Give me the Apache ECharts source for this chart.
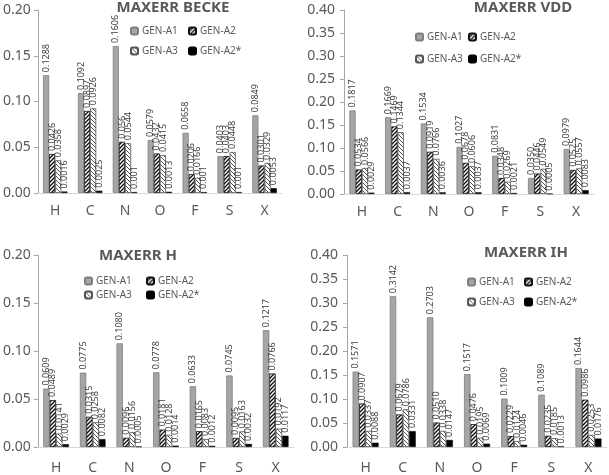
<!DOCTYPE html>
<html><head><meta charset="utf-8">
<script src="https://cdn.jsdelivr.net/npm/echarts@6/dist/echarts.min.js"></script>
<style>html,body{margin:0;padding:0;background:#fff}#c{width:609px;height:475px}</style>
</head><body><div id="c"></div>
<script>
const categories = ['H','C','N','O','F','S','X'];
const seriesNames = ['GEN-A1','GEN-A2','GEN-A3','GEN-A2*'];
const panelTitles = ['MAXERR BECKE','MAXERR VDD','MAXERR H','MAXERR IH'];
const yMax = [0.20, 0.40, 0.20, 0.40];
const yInterval = [0.05, 0.05, 0.05, 0.05];

const becke_A1  = [0.1288,0.1092,0.1606,0.0579,0.0658,0.0403,0.0849];
const becke_A2  = [0.0426,0.0897,0.056,0.0432,0.0206,0.0403,0.0301];
const becke_A3  = [0.0358,0.0926,0.0544,0.0415,0.0166,0.0448,0.0329];
const becke_A2s = [0.0016,0.0025,0.001,0.0013,0.001,0.001,0.0053];

const vdd_A1  = [0.1817,0.1669,0.1534,0.1027,0.0831,0.0350,0.0979];
const vdd_A2  = [0.0534,0.1469,0.0919,0.0678,0.0348,0.0446,0.0525];
const vdd_A3  = [0.0566,0.1344,0.0766,0.0606,0.0269,0.0549,0.0557];
const vdd_A2s = [0.0029,0.0037,0.0036,0.0037,0.0021,0.0005,0.0083];

const h_A1  = [0.0609,0.0775,0.1080,0.0778,0.0633,0.0745,0.1217];
const h_A2  = [0.0489,0.0315,0.0096,0.0181,0.0165,0.0095,0.0766];
const h_A3  = [0.0141,0.0258,0.0156,0.0128,0.0083,0.0163,0.0192];
const h_A2s = [0.0029,0.0082,0.0005,0.0014,0.0012,0.0032,0.0117];

const ih_A1  = [0.1571,0.3142,0.2703,0.1517,0.1009,0.1089,0.1644];
const ih_A2  = [0.0907,0.0679,0.0510,0.0476,0.0229,0.0235,0.0986];
const ih_A3  = [0.0337,0.0786,0.0338,0.0195,0.0124,0.0185,0.0253];
const ih_A2s = [0.0088,0.0331,0.0147,0.0069,0.0046,0.0013,0.0176];

const labelText = [
  [becke_A1.map(String), becke_A2.map(String), becke_A3.map(String), becke_A2s.map(String)],
  [['0.1817','0.1669','0.1534','0.1027','0.0831','0.0350','0.0979'],['0.0534','0.1469','0.0919','0.0678','0.0348','0.0446','0.0525'],['0.0566','0.1344','0.0766','0.0606','0.0269','0.0549','0.0557'],['0.0029','0.0037','0.0036','0.0037','0.0021','0.0005','0.0083']],
  [['0.0609','0.0775','0.1080','0.0778','0.0633','0.0745','0.1217'],['0.0489','0.0315','0.0096','0.0181','0.0165','0.0095','0.0766'],['0.0141','0.0258','0.0156','0.0128','0.0083','0.0163','0.0192'],['0.0029','0.0082','0.0005','0.0014','0.0012','0.0032','0.0117']],
  [['0.1571','0.3142','0.2703','0.1517','0.1009','0.1089','0.1644'],['0.0907','0.0679','0.0510','0.0476','0.0229','0.0235','0.0986'],['0.0337','0.0786','0.0338','0.0195','0.0124','0.0185','0.0253'],['0.0088','0.0331','0.0147','0.0069','0.0046','0.0013','0.0176']]
];
const panelData = [
  [becke_A1, becke_A2, becke_A3, becke_A2s],
  [vdd_A1, vdd_A2, vdd_A3, vdd_A2s],
  [h_A1, h_A2, h_A3, h_A2s],
  [ih_A1, ih_A2, ih_A3, ih_A2s]
];

function makePattern(dir, color, lw) {
  const c = document.createElement('canvas');
  c.width = 4; c.height = 4;
  const x = c.getContext('2d');
  x.fillStyle = '#fff'; x.fillRect(0,0,4,4);
  x.strokeStyle = color; x.lineWidth = lw;
  x.beginPath();
  if (dir === 'up') {
    x.moveTo(-1,5); x.lineTo(5,-1);
    x.moveTo(-1,1); x.lineTo(1,-1);
    x.moveTo(3,5); x.lineTo(5,3);
  } else {
    x.moveTo(-1,-1); x.lineTo(5,5);
    x.moveTo(-1,3); x.lineTo(1,5);
    x.moveTo(3,-1); x.lineTo(5,1);
  }
  x.stroke();
  return {image: c, repeat: 'repeat'};
}
const styles = [
  {color:'#a5a5a5', borderColor:'#7f7f7f', borderWidth:0.8},
  {color: makePattern('up', '#111', 1.4), borderColor:'#111', borderWidth:0.8},
  {color: makePattern('down', '#555', 1.0), borderColor:'#555', borderWidth:0.8},
  {color:'#000', borderColor:'#000', borderWidth:0.5}
];

const grids = [
  {left:33, top:10, width:249, height:183},
  {left:344, top:10, width:250, height:184},
  {left:35, top:255, width:259, height:192},
  {left:347, top:255, width:260, height:192}
];
const xLabelMargin = [11, 11, 14, 14];
const yLabelMargin = [7, 9, 7, 9];
const titlePos = [[173,0],[523,0],[138,248],[526,245]];
const legendPos = [
  {x:[130,188], y:[32,52]},
  {x:[415,468], y:[38,60]},
  {x:[84,146], y:[282,296]},
  {x:[467,524], y:[283,303]}
];
const FONT = 'Noto Sans';

const option = {
  animation:false,
  backgroundColor:'#fff',
  textStyle:{fontFamily:FONT},
  title:[], legend:[], grid:grids, xAxis:[], yAxis:[], series:[]
};

for (let p=0; p<4; p++) {
  option.title.push({
    text: panelTitles[p], left: titlePos[p][0], top: titlePos[p][1], textAlign:'center', padding:0,
    textStyle:{fontSize:15, fontWeight:'bold', color:'#595959', fontFamily:FONT}
  });
  option.xAxis.push({
    type:'category', gridIndex:p, data:categories,
    axisLine:{lineStyle:{color:'#d9d9d9'}}, axisTick:{show:false},
    axisLabel:{color:'#595959', fontSize:14, margin:xLabelMargin[p], fontFamily:FONT}
  });
  option.yAxis.push({
    type:'value', gridIndex:p, min:0, max:yMax[p], interval:yInterval[p],
    splitLine:{show:false},
    axisLine:{show:true, lineStyle:{color:'#a6a6a6'}},
    axisTick:{show:true, length:4, lineStyle:{color:'#a6a6a6'}},
    axisLabel:{color:'#595959', fontSize:14, margin:yLabelMargin[p], fontFamily:FONT,
      formatter: v => v.toFixed(2)}
  });
  for (let s=0; s<4; s++) {
    const lt = labelText[p][s];
    option.series.push({
      type:'bar', name:seriesNames[s], xAxisIndex:p, yAxisIndex:p,
      data: panelData[p][s], barGap:'0%', barCategoryGap:'30%',
      itemStyle: styles[s],
      label:{show:true, position:'top', rotate:90, align:'left', verticalAlign:'middle', distance:3,
        fontSize:9, color:'#404040', fontFamily:FONT,
        formatter: params => lt[params.dataIndex]}
    });
  }
  const lp = legendPos[p];
  for (let s=0; s<4; s++) {
    const col = s % 2, row = Math.floor(s/2);
    option.legend.push({
      data:[seriesNames[s]], left: lp.x[col], top: lp.y[row]-6, padding:0,
      itemWidth:7, itemHeight:7, itemGap:4, selectedMode:false,
      textStyle:{fontSize:10, color:'#595959', fontFamily:FONT, padding:[0,0,0,-1]}
    });
  }
}

const chart = echarts.init(document.getElementById('c'), null, {renderer:'canvas'});
chart.setOption(option);
</script></body></html>
